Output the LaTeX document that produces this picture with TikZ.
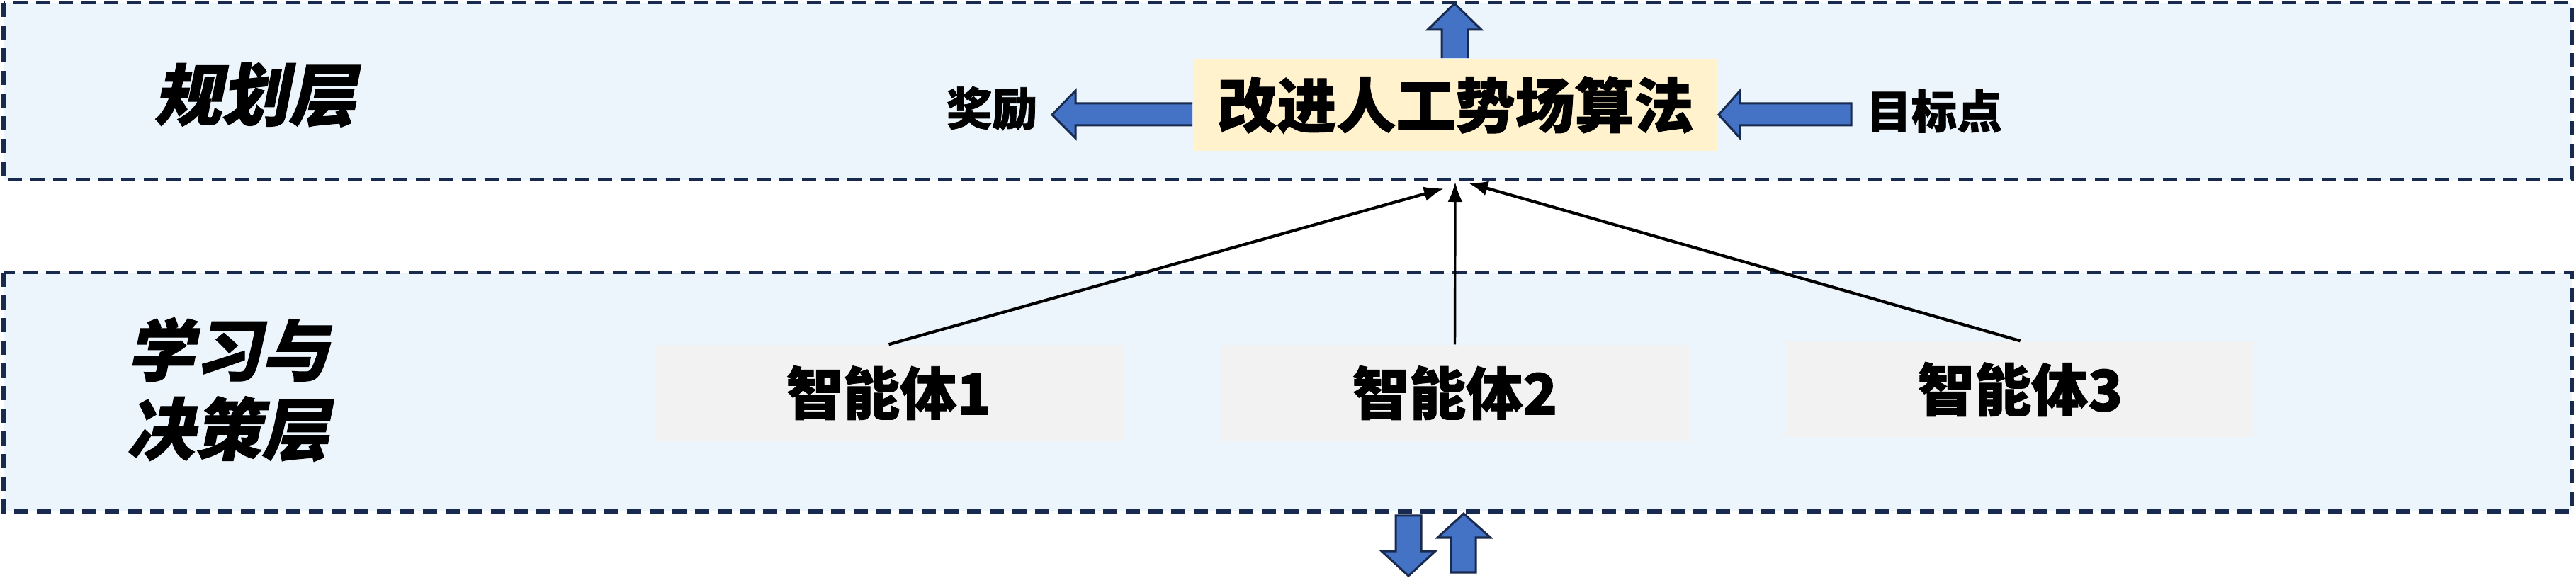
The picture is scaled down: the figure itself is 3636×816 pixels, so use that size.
\documentclass[tikz,border=0pt]{standalone}
\usepackage{fontspec}
\setmainfont{Noto Sans CJK SC}[BoldFeatures={FakeBold=1.2}]
\newfontfamily\cjkslant{Noto Sans CJK SC}[FakeSlant=0.2,BoldFeatures={FakeBold=1.2}]
\usetikzlibrary{arrows.meta,calc}
\definecolor{navy}{RGB}{24,42,78}
\definecolor{layerfill}{RGB}{236,244,252}
\definecolor{algfill}{RGB}{255,242,204}
\definecolor{agentfill}{RGB}{242,242,242}
\definecolor{arrowblue}{RGB}{68,114,196}
\begin{document}
\begin{tikzpicture}[x=0.01cm,y=-0.01cm,
  layerbox/.style={draw=navy,line width=0.05cm,dash pattern=on 0.2cm off 0.12cm,fill=layerfill},
  layerlabel/.style={inner sep=0pt,align=center,font=\cjkslant\bfseries\fontsize{27pt}{31.6pt}\selectfont},
  algbox/.style={fill=algfill,inner sep=0pt,minimum width=7.41cm,minimum height=1.30cm,font=\bfseries\fontsize{23.9pt}{26pt}\selectfont},
  agentbox/.style={fill=agentfill,inner sep=0pt,minimum width=6.60cm,minimum height=1.35cm,font=\bfseries\fontsize{22.8pt}{25pt}\selectfont},
  sidelabel/.style={inner sep=0pt,font=\bfseries\fontsize{18.2pt}{20pt}\selectfont},
  blockarrow/.style={fill=arrowblue,draw=navy,line width=0.03cm,line join=miter},
  thinarrow/.style={draw=black,line width=0.042cm,-{Latex[length=2.8mm,width=2.1mm]}}
]
\useasboundingbox (0,0) rectangle (3636,816);
% layers
\path[layerbox] (5,4) rectangle (3630,254);
\path[layerbox] (5,385) rectangle (3630,722);
\node[layerlabel] (lplan) at (360,134) {规划层};
\node[layerlabel] (llearn) at (322,550) {学习与\\决策层};
% planning layer
\node[algbox] (alg) at (2054.5,148) {改进人工势场算法};
\node[sidelabel] (reward) at (1400,153) {奖励};
\node[sidelabel] (goal) at (2730,157) {目标点};
% agents
\node[agentbox] (a1) at (1254.5,554.5) {智能体1};
\node[agentbox] (a2) at (2053.5,554.5) {智能体2};
\node[agentbox] (a3) at (2851.5,549.5) {智能体3};
% block arrows
\filldraw[blockarrow] (alg.west |- 0,146) -- (1518,146) -- (1518,128) -- (1485,162) -- (1518,195) -- (1518,177) -- (alg.west |- 0,177);
\filldraw[blockarrow] (2613,146) -- (2456,146) -- (2456,128) -- (alg.east |- 0,162) -- (2456,195) -- (2456,177) -- (2613,177) -- cycle;
\filldraw[blockarrow] (2035,0 |- alg.north) -- (2035,42) -- (2015,42) -- (2053,5) -- (2091,42) -- (2072,42) -- (2072,0 |- alg.north);
\filldraw[blockarrow] (1970,728) -- (2006,728) -- (2006,778) -- (2026,778) -- (1988,813) -- (1950,778) -- (1970,778) -- cycle;
\filldraw[blockarrow] (2066,725) -- (2104,759) -- (2083,759) -- (2083,808) -- (2048,808) -- (2048,759) -- (2029,759) -- cycle;
% thin arrows
\coordinate (t1) at (2038,266);
\coordinate (t2) at (2054,257);
\coordinate (t3) at (2072,258);
\draw[thinarrow] (a1.north) -- (t1);
\draw[thinarrow,line width=0.034cm] (a2.north) -- (t2);
\draw[thinarrow] (a3.north) -- (t3);
\end{tikzpicture}
\end{document}
